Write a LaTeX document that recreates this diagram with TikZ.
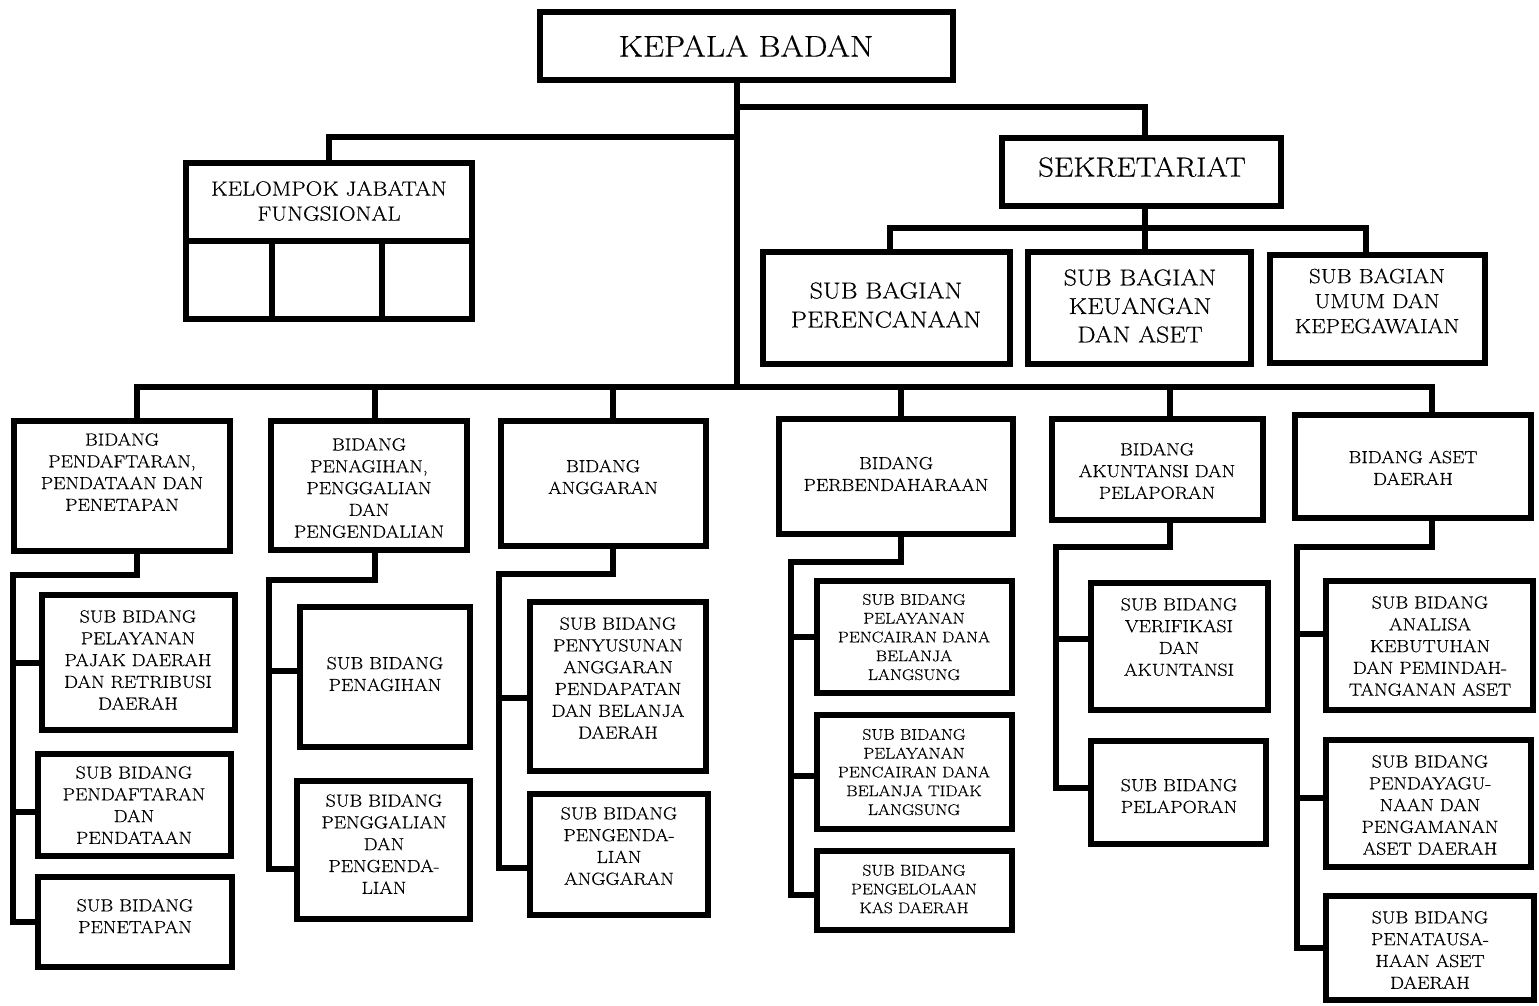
\documentclass[tikz,border=0pt]{standalone}
\usepackage{fontspec}
\setmainfont{Latin Modern Roman}[FakeStretch=1.12, FakeBold=0.5]
\usetikzlibrary{fit}
\tikzset{
  box/.style={draw=black, line width=6pt, inner sep=0pt, line join=miter},
  conn/.style={draw=black, line width=6pt, line join=miter},
  txt/.style={align=center, inner sep=0pt, font=\fontsize{17.5}{21.8}\selectfont},
  smalltxt/.style={align=center, inner sep=0pt, font=\fontsize{15.5}{18.8}\selectfont},
  midtxt/.style={align=center, inner sep=0pt, font=\fontsize{20.5}{25}\selectfont},
  bigtxt/.style={align=center, inner sep=0pt, font=\fontsize{23}{28.5}\selectfont},
}
\newcommand{\ob}[5]{\node[box, fit={(#2,#3) (#4,#5)}] (#1) {};}
\begin{document}
\begin{tikzpicture}[x=1pt, y=-1pt]
\useasboundingbox (0,0) rectangle (1539,1005);

% ---------- top level ----------
\ob{kepala}{540}{12}{953}{80}
\node[txt, font=\fontsize{30}{36}\selectfont] (kepala-t) at (746,46) {KEPALA BADAN};

\ob{sek}{1002}{138}{1281}{206}
\node[txt, font=\fontsize{27.5}{33}\selectfont] (sek-t) at (1142,167) {SEKRETARIAT};

\ob{kjf}{186}{163}{472}{241}
\ob{kjfa}{186}{241}{272}{319}
\ob{kjfb}{272}{241}{382}{319}
\ob{kjfc}{382}{241}{472}{319}
\node[midtxt] (kjf-t) at (329,201) {KELOMPOK JABATAN\\FUNGSIONAL};

\ob{P}{763}{252}{1010}{364}
\node[bigtxt, font=\fontsize{23}{29}\selectfont] (P-t) at (886,305) {SUB BAGIAN\\PERENCANAAN};
\ob{K}{1028}{252}{1251}{364}
\node[bigtxt] (K-t) at (1140,306) {SUB BAGIAN\\KEUANGAN\\DAN ASET};
\ob{U}{1270}{255}{1485}{363}
\node[midtxt] (U-t) at (1377,301) {SUB BAGIAN\\UMUM DAN\\KEPEGAWAIAN};

% ---------- bidang ----------
\ob{A}{14}{421}{230}{551}
\node[txt] (A-t) at (122,472) {BIDANG\\PENDAFTARAN,\\PENDATAAN DAN\\PENETAPAN};
\ob{B}{271}{421}{467}{550}
\node[txt] (B-t) at (369,488) {BIDANG\\PENAGIHAN,\\PENGGALIAN\\DAN\\PENGENDALIAN};
\ob{C}{501}{421}{706}{546}
\node[txt] (C-t) at (603,477) {BIDANG\\ANGGARAN};
\ob{D}{779}{419}{1013}{534}
\node[txt] (D-t) at (896,474) {BIDANG\\PERBENDAHARAAN};
\ob{E}{1052}{419}{1263}{520}
\node[txt] (E-t) at (1157,471) {BIDANG\\AKUNTANSI DAN\\PELAPORAN};
\ob{F}{1295}{415}{1531}{518}
\node[txt] (F-t) at (1413,468) {BIDANG ASET\\DAERAH};

% ---------- sub bidang ----------
\ob{A1}{42}{595}{235}{730}
\node[txt] (A1-t) at (138,660) {SUB BIDANG\\PELAYANAN\\PAJAK DAERAH\\DAN RETRIBUSI\\DAERAH};
\ob{A2}{38}{754}{231}{856}
\node[txt] (A2-t) at (134,805) {SUB BIDANG\\PENDAFTARAN\\DAN\\PENDATAAN};
\ob{A3}{38}{877}{232}{967}
\node[txt] (A3-t) at (135,916) {SUB BIDANG\\PENETAPAN};

\ob{B1}{300}{607}{470}{747}
\node[txt] (B1-t) at (385,674) {SUB BIDANG\\PENAGIHAN};
\ob{B2}{297}{781}{470}{919}
\node[txt] (B2-t) at (384,844) {SUB BIDANG\\PENGGALIAN\\DAN\\PENGENDA-\\LIAN};

\ob{C1}{530}{602}{706}{771}
\node[txt] (C1-t) at (618,678) {SUB BIDANG\\PENYUSUNAN\\ANGGARAN\\PENDAPATAN\\DAN BELANJA\\DAERAH};
\ob{C2}{530}{794}{708}{915}
\node[txt] (C2-t) at (619,846) {SUB BIDANG\\PENGENDA-\\LIAN\\ANGGARAN};

\ob{D1}{817}{581}{1012}{693}
\node[smalltxt] (D1-t) at (914,637) {SUB BIDANG\\PELAYANAN\\PENCAIRAN DANA\\BELANJA\\LANGSUNG};
\ob{D2}{817}{715}{1012}{829}
\node[smalltxt] (D2-t) at (914,772) {SUB BIDANG\\PELAYANAN\\PENCAIRAN DANA\\BELANJA TIDAK\\LANGSUNG};
\ob{D3}{817}{851}{1012}{930}
\node[smalltxt] (D3-t) at (914,889) {SUB BIDANG\\PENGELOLAAN\\KAS DAERAH};

\ob{E1}{1091}{583}{1268}{710}
\node[txt] (E1-t) at (1179,637) {SUB BIDANG\\VERIFIKASI\\DAN\\AKUNTANSI};
\ob{E2}{1091}{741}{1266}{844}
\node[txt] (E2-t) at (1179,796) {SUB BIDANG\\PELAPORAN};

\ob{F1}{1326}{581}{1533}{710}
\node[txt] (F1-t) at (1430,646) {SUB BIDANG\\ANALISA\\KEBUTUHAN\\DAN PEMINDAH-\\TANGANAN ASET};
\ob{F2}{1326}{740}{1531}{867}
\node[txt] (F2-t) at (1430,805) {SUB BIDANG\\PENDAYAGU-\\NAAN DAN\\PENGAMANAN\\ASET DAERAH};
\ob{F3}{1326}{896}{1534}{1000}
\node[txt] (F3-t) at (1430,950) {SUB BIDANG\\PENATAUSA-\\HAAN ASET\\DAERAH};

% ---------- connectors: top ----------
\coordinate (tr) at (737,387);
\coordinate (sj) at (737,107);
\coordinate (sx) at (1145,107);
\coordinate (kj) at (737,137);
\draw[conn] (kepala.south -| tr) -- (tr);
\draw[conn] (sj) -- (sx) -- (sx |- sek.north);
\draw[conn] (kj) -| (kjf.north);

\coordinate (sb) at (1145,228);
\coordinate (sbl) at (890,228);
\coordinate (sbr) at (1366,228);
\draw[conn] (sek.south -| sb) -- (sb) -- (sb |- K.north);
\draw[conn] (sbl |- P.north) -- (sbl) -- (sbr) -- (sbr |- U.north);

% ---------- bus ----------
\coordinate (bA) at (137,387);
\coordinate (bB) at (375,387);
\coordinate (bC) at (613,387);
\coordinate (bD) at (901,387);
\coordinate (bE) at (1170,387);
\coordinate (bF) at (1432,387);
\draw[conn] (bA |- A.north) -- (bA) -- (bF) -- (bF |- F.north);
\draw[conn] (bB) -- (bB |- B.north);
\draw[conn] (bC) -- (bC |- C.north);
\draw[conn] (bD) -- (bD |- D.north);
\draw[conn] (bE) -- (bE |- E.north);

% ---------- spines ----------
% A
\coordinate (aK1) at (137,575); \coordinate (aK2) at (13,575);
\coordinate (aJ1) at (13,663); \coordinate (aJ2) at (13,812); \coordinate (aJ3) at (13,922);
\draw[conn] (A.south -| aK1) -- (aK1) -- (aK2) -- (aJ3) -- (aJ3 -| A3.west);
\draw[conn] (aJ1) -- (aJ1 -| A1.west);
\draw[conn] (aJ2) -- (aJ2 -| A2.west);
% B
\coordinate (bK1) at (375,580); \coordinate (bK2) at (269,580);
\coordinate (bJ1) at (269,671); \coordinate (bJ2) at (269,869);
\draw[conn] (B.south -| bK1) -- (bK1) -- (bK2) -- (bJ2) -- (bJ2 -| B2.west);
\draw[conn] (bJ1) -- (bJ1 -| B1.west);
% C
\coordinate (cK1) at (613,574); \coordinate (cK2) at (499,574);
\coordinate (cJ1) at (499,698); \coordinate (cJ2) at (499,868);
\draw[conn] (C.south -| cK1) -- (cK1) -- (cK2) -- (cJ2) -- (cJ2 -| C2.west);
\draw[conn] (cJ1) -- (cJ1 -| C1.west);
% D
\coordinate (dK1) at (901,562); \coordinate (dK2) at (791,562);
\coordinate (dJ1) at (791,637); \coordinate (dJ2) at (791,776); \coordinate (dJ3) at (791,895);
\draw[conn] (D.south -| dK1) -- (dK1) -- (dK2) -- (dJ3) -- (dJ3 -| D3.west);
\draw[conn] (dJ1) -- (dJ1 -| D1.west);
\draw[conn] (dJ2) -- (dJ2 -| D2.west);
% E
\coordinate (eK1) at (1170,547); \coordinate (eK2) at (1056,547);
\coordinate (eJ1) at (1056,639); \coordinate (eJ2) at (1056,788);
\draw[conn] (E.south -| eK1) -- (eK1) -- (eK2) -- (eJ2) -- (eJ2 -| E2.west);
\draw[conn] (eJ1) -- (eJ1 -| E1.west);
% F
\coordinate (fK1) at (1432,547); \coordinate (fK2) at (1297,547);
\coordinate (fJ1) at (1297,634); \coordinate (fJ2) at (1297,798); \coordinate (fJ3) at (1297,948);
\draw[conn] (F.south -| fK1) -- (fK1) -- (fK2) -- (fJ3) -- (fJ3 -| F3.west);
\draw[conn] (fJ1) -- (fJ1 -| F1.west);
\draw[conn] (fJ2) -- (fJ2 -| F2.west);
\end{tikzpicture}
\end{document}
